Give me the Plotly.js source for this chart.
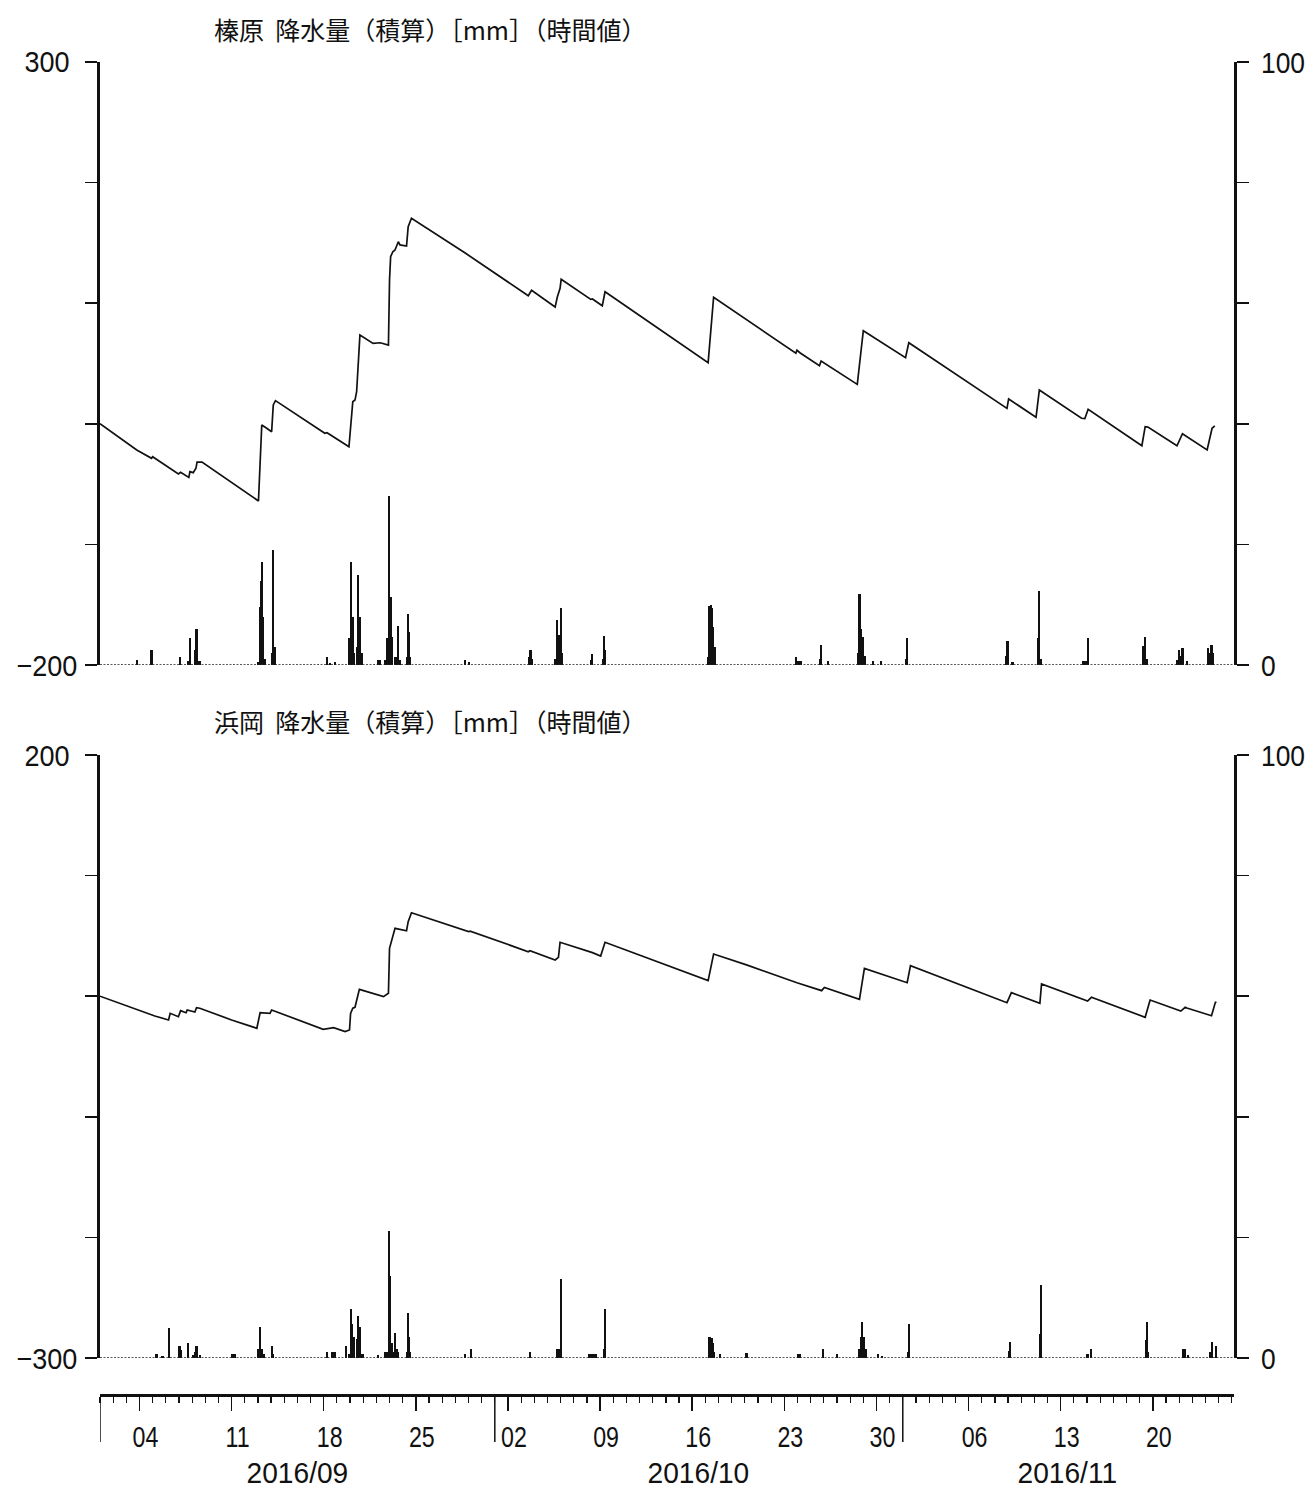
<!DOCTYPE html>
<html>
<head>
<meta charset="utf-8">
<script src="https://cdn.plot.ly/plotly-3.0.1.min.js"></script>
<style>html,body{margin:0;padding:0;background:#fff;}#chart{width:1312px;height:1493px;}</style>
</head>
<body>
<div id="chart"></div>
<script>
// ---------- data ----------
const titleTop = '榛原  降水量（積算）［mm］（時間値）';
const titleBottom = '浜岡  降水量（積算）［mm］（時間値）';

const monthStarts = ['2016-09-01', '2016-10-01', '2016-11-01'];
const monthLabels = ['2016/09', '2016/10', '2016/11'];
const axisStart = '2016-09-01 00:00';
const axisEnd = '2016-11-26 04:00';
const lastDay = '2016-11-26 00:00';

const topLeftTicks = [-200, -100, 0, 100, 200, 300];
const topLeftText = ['−200', '', '', '', '', '300'];
const botLeftTicks = [-300, -200, -100, 0, 100, 200];
const botLeftText = ['−300', '', '', '', '', '200'];
const rightTicks = [0, 20, 40, 60, 80, 100];
const rightText = ['0', '', '', '', '', '100'];

// 榛原: cumulative (line)
const topLineT = ['2016-09-01 00:00','2016-09-03 19:00','2016-09-04 22:00','2016-09-05 00:00','2016-09-06 23:00','2016-09-07 03:00','2016-09-07 18:00','2016-09-07 20:00','2016-09-08 02:00','2016-09-08 07:00','2016-09-08 09:00','2016-09-08 18:00','2016-09-13 01:00','2016-09-13 07:00','2016-09-13 16:00','2016-09-14 01:00','2016-09-14 04:00','2016-09-14 08:00','2016-09-18 02:00','2016-09-18 06:00','2016-09-19 22:00','2016-09-20 02:00','2016-09-20 05:00','2016-09-20 09:00','2016-09-20 12:00','2016-09-20 18:00','2016-09-21 18:00','2016-09-22 07:00','2016-09-22 22:00','2016-09-23 00:00','2016-09-23 02:00','2016-09-23 06:00','2016-09-23 10:00','2016-09-23 16:00','2016-09-23 19:00','2016-09-24 07:00','2016-09-24 10:00','2016-09-24 16:00','2016-09-28 18:00','2016-10-03 13:00','2016-10-03 19:00','2016-10-05 14:00','2016-10-05 18:00','2016-10-05 23:00','2016-10-06 01:00','2016-10-08 07:00','2016-10-08 10:00','2016-10-09 04:00','2016-10-09 09:00','2016-10-17 05:00','2016-10-17 15:00','2016-10-23 21:00','2016-10-23 23:00','2016-10-24 05:00','2016-10-25 16:00','2016-10-25 19:00','2016-10-28 13:00','2016-10-29 00:00','2016-11-01 05:00','2016-11-01 11:00','2016-11-08 22:00','2016-11-09 01:00','2016-11-11 03:00','2016-11-11 09:00','2016-11-14 14:00','2016-11-14 20:00','2016-11-15 02:00','2016-11-19 04:00','2016-11-19 10:00','2016-11-19 15:00','2016-11-21 20:00','2016-11-22 06:00','2016-11-24 03:00','2016-11-24 12:00','2016-11-24 17:00'];
const topLineV = [0,-21.7,-28.6,-27.3,-41.6,-40.2,-44.4,-39.7,-40.5,-36.9,-31.7,-31.7,-64,-1,-3.7,-6.6,15.6,19.2,-7.9,-7.4,-19.0,5.9,18.3,19.7,26.6,73.6,66.7,67.2,65.3,119.2,138.6,142.7,144.1,151.0,148.3,147.4,163.4,170.4,141.6,106.2,110.7,96.8,105.1,112.4,119.8,103.2,103.5,97.9,109.5,50.7,104.9,58.5,61.0,58.7,48.2,52.1,32.7,77.2,54.8,67.2,12.8,20.6,5.4,28.0,4.6,4.3,12.0,-18.2,-2.4,-2.7,-18.2,-8.2,-21.7,-3.7,-1.8];

// 榛原: hourly (bars)
const topBarT = ['2016-09-03 20:00','2016-09-04 22:00','2016-09-07 02:00','2016-09-07 17:00','2016-09-07 20:00','2016-09-08 05:00','2016-09-08 08:00','2016-09-08 11:00','2016-09-08 14:00','2016-09-13 01:00','2016-09-13 04:00','2016-09-13 06:00','2016-09-13 07:00','2016-09-13 09:00','2016-09-13 12:00','2016-09-14 02:00','2016-09-14 04:00','2016-09-14 07:00','2016-09-18 06:00','2016-09-18 12:00','2016-09-18 20:00','2016-09-19 22:00','2016-09-20 02:00','2016-09-20 05:00','2016-09-20 07:00','2016-09-20 12:00','2016-09-20 15:00','2016-09-20 18:00','2016-09-20 21:00','2016-09-22 04:00','2016-09-22 07:00','2016-09-22 16:00','2016-09-22 20:00','2016-09-22 23:00','2016-09-23 02:00','2016-09-23 04:00','2016-09-23 10:00','2016-09-23 13:00','2016-09-23 16:00','2016-09-23 18:00','2016-09-24 08:00','2016-09-24 10:00','2016-09-24 12:00','2016-09-24 14:00','2016-09-28 18:00','2016-09-29 01:00','2016-10-03 14:00','2016-10-03 17:00','2016-10-03 20:00','2016-10-05 14:00','2016-10-05 17:00','2016-10-05 20:00','2016-10-06 00:00','2016-10-06 03:00','2016-10-08 07:00','2016-10-08 09:00','2016-10-09 05:00','2016-10-09 07:00','2016-10-09 09:00','2016-10-17 05:00','2016-10-17 07:00','2016-10-17 10:00','2016-10-17 12:00','2016-10-17 14:00','2016-10-17 17:00','2016-10-23 21:00','2016-10-24 00:00','2016-10-24 04:00','2016-10-24 07:00','2016-10-25 17:00','2016-10-25 19:00','2016-10-26 08:00','2016-10-28 14:00','2016-10-28 17:00','2016-10-28 19:00','2016-10-28 23:00','2016-10-29 02:00','2016-10-29 17:00','2016-10-30 08:00','2016-11-01 06:00','2016-11-01 08:00','2016-11-08 21:00','2016-11-08 23:00','2016-11-09 08:00','2016-11-11 06:00','2016-11-11 08:00','2016-11-11 11:00','2016-11-14 16:00','2016-11-14 20:00','2016-11-14 23:00','2016-11-15 02:00','2016-11-19 07:00','2016-11-19 10:00','2016-11-19 13:00','2016-11-21 21:00','2016-11-22 00:00','2016-11-22 03:00','2016-11-22 06:00','2016-11-22 15:00','2016-11-24 05:00','2016-11-24 08:00','2016-11-24 11:00','2016-11-24 14:00'];
const topBarV = [0.8,2.5,1.4,0.7,4.4,2.5,6.0,0.7,0.7,0.5,9.7,14.0,17.0,8.0,1.0,2.0,19.0,3.0,1.4,0.4,0.5,4.4,17.0,8.0,2.0,3.0,14.9,8.0,2.0,0.8,0.8,0.8,4.4,28.0,11.3,4.7,1.4,1.4,6.5,0.8,1.4,8.4,5.5,1.4,0.8,0.5,1.4,2.5,1.0,1.0,7.4,4.9,9.4,2.0,0.8,1.8,1.0,4.8,2.5,1.4,9.8,10.0,9.4,6.3,3.0,1.4,0.6,0.6,0.6,1.0,3.3,0.6,2.0,11.8,6.0,4.6,1.5,0.6,0.6,1.0,4.4,1.5,3.9,0.5,4.4,12.3,1.0,0.6,0.6,0.6,4.4,3.2,4.7,1.0,0.8,2.5,1.5,2.8,0.6,2.8,2.0,3.3,2.0];

// 浜岡: cumulative (line)
const botLineT = ['2016-09-01 00:00','2016-09-05 04:00','2016-09-06 05:00','2016-09-06 08:00','2016-09-06 23:00','2016-09-07 03:00','2016-09-07 13:00','2016-09-07 15:00','2016-09-08 05:00','2016-09-08 08:00','2016-09-08 14:00','2016-09-11 00:00','2016-09-12 22:00','2016-09-13 04:00','2016-09-13 22:00','2016-09-14 01:00','2016-09-17 23:00','2016-09-18 18:00','2016-09-19 15:00','2016-09-19 23:00','2016-09-20 01:00','2016-09-20 05:00','2016-09-20 09:00','2016-09-20 12:00','2016-09-20 17:00','2016-09-22 13:00','2016-09-22 22:00','2016-09-23 00:00','2016-09-23 04:00','2016-09-23 10:00','2016-09-24 07:00','2016-09-24 10:00','2016-09-24 16:00','2016-09-29 00:00','2016-09-29 03:00','2016-10-03 13:00','2016-10-03 16:00','2016-10-05 14:00','2016-10-05 20:00','2016-10-05 23:00','2016-10-08 10:00','2016-10-09 01:00','2016-10-09 09:00','2016-10-17 05:00','2016-10-17 15:00','2016-10-20 03:00','2016-10-23 23:00','2016-10-25 20:00','2016-10-26 01:00','2016-10-28 17:00','2016-10-29 02:00','2016-11-01 08:00','2016-11-01 14:00','2016-11-08 22:00','2016-11-09 06:00','2016-11-11 10:00','2016-11-11 13:00','2016-11-15 01:00','2016-11-15 08:00','2016-11-19 10:00','2016-11-19 19:00','2016-11-22 03:00','2016-11-22 11:00','2016-11-22 14:00','2016-11-24 11:00','2016-11-24 18:00','2016-11-24 20:00'];
const botLineV = [0,-16.4,-19.7,-14.2,-17.0,-12.0,-13.7,-11.4,-13.1,-9.5,-10.0,-19.7,-26.6,-13.7,-14.2,-11.4,-27.5,-26.1,-29.4,-28.0,-14.2,-10.0,-9.2,-3.2,5.7,-0.4,2.4,39.7,46.6,56.3,54.3,61.8,69.2,53.5,54.0,36.9,37.7,30.0,32.2,44.7,36.1,33.3,44.7,12.9,35.0,26.0,11.2,4.6,7.3,-2.6,23.1,11.2,25.3,-5.4,3.0,-5.9,10.1,-4.0,-0.9,-17.5,-3.2,-12.3,-9.2,-9.8,-16.2,-5.1,-4.8];

// 浜岡: hourly (bars)
const botBarT = ['2016-09-05 07:00','2016-09-05 18:00','2016-09-06 06:00','2016-09-07 01:00','2016-09-07 03:00','2016-09-07 16:00','2016-09-08 02:00','2016-09-08 05:00','2016-09-08 08:00','2016-09-08 14:00','2016-09-11 00:00','2016-09-11 03:00','2016-09-11 06:00','2016-09-13 01:00','2016-09-13 04:00','2016-09-13 07:00','2016-09-13 10:00','2016-09-14 01:00','2016-09-14 03:00','2016-09-18 06:00','2016-09-18 16:00','2016-09-18 21:00','2016-09-19 16:00','2016-09-19 22:00','2016-09-20 01:00','2016-09-20 04:00','2016-09-20 07:00','2016-09-20 12:00','2016-09-20 15:00','2016-09-20 18:00','2016-09-20 21:00','2016-09-21 00:00','2016-09-22 03:00','2016-09-22 16:00','2016-09-22 19:00','2016-09-22 23:00','2016-09-23 01:00','2016-09-23 04:00','2016-09-23 06:00','2016-09-23 10:00','2016-09-23 13:00','2016-09-23 16:00','2016-09-24 08:00','2016-09-24 10:00','2016-09-24 12:00','2016-09-24 14:00','2016-09-28 18:00','2016-09-29 05:00','2016-10-03 16:00','2016-10-05 18:00','2016-10-05 20:00','2016-10-06 00:00','2016-10-08 04:00','2016-10-08 08:00','2016-10-08 12:00','2016-10-08 16:00','2016-10-09 07:00','2016-10-09 09:00','2016-10-17 07:00','2016-10-17 09:00','2016-10-17 11:00','2016-10-17 13:00','2016-10-17 15:00','2016-10-18 02:00','2016-10-20 03:00','2016-10-24 01:00','2016-10-24 04:00','2016-10-25 22:00','2016-10-27 00:00','2016-10-28 17:00','2016-10-28 20:00','2016-10-28 22:00','2016-10-29 01:00','2016-10-29 04:00','2016-10-30 03:00','2016-10-30 10:00','2016-11-01 10:00','2016-11-01 12:00','2016-11-09 02:00','2016-11-09 04:00','2016-11-11 10:00','2016-11-11 12:00','2016-11-15 01:00','2016-11-15 07:00','2016-11-19 11:00','2016-11-19 13:00','2016-11-19 15:00','2016-11-22 07:00','2016-11-22 11:00','2016-11-22 16:00','2016-11-24 08:00','2016-11-24 12:00','2016-11-24 19:00'];
const botBarV = [0.6,0.3,5.0,2.0,1.3,2.5,0.5,1.0,2.0,0.5,0.6,0.6,0.6,1.5,5.1,1.5,0.7,2.0,0.7,1.0,1.0,1.0,2.0,0.7,8.1,5.6,3.5,3.1,7.0,5.2,0.7,0.7,0.5,1.0,1.0,21.1,13.6,2.5,1.0,4.1,1.5,1.0,1.0,7.5,3.5,1.0,0.6,1.5,1.0,1.5,1.5,13.1,0.6,0.6,0.6,0.6,1.5,8.1,3.5,3.5,3.3,2.5,1.0,0.6,0.9,0.6,0.6,1.5,0.6,1.5,3.5,6.0,3.5,1.5,0.6,0.4,1.0,5.6,1.2,2.6,4.0,12.1,0.6,1.5,3.0,6.0,1.0,1.5,1.5,0.5,1.0,2.6,2.0];

// ---------- chart ----------
const W = 1312, H = 1493;
const px = v => v / W;
const py = v => 1 - v / H;
const HOUR = 3600000;
const NUM_FONT = 'Liberation Sans, Arial, sans-serif';
const CJK_FONT = 'Noto Sans CJK JP, Noto Sans, sans-serif';
const domX = [px(100), px(1234)];

function barTrace(t, v, xa, ya) {
  return {type: 'bar', x: t, y: v, xaxis: xa, yaxis: ya, width: t.map(() => 4 * HOUR),
    marker: {color: '#111', line: {width: 0}}, hoverinfo: 'skip'};
}
function lineTrace(t, v, xa, ya) {
  return {type: 'scatter', mode: 'lines', x: t, y: v, xaxis: xa, yaxis: ya,
    line: {color: '#111', width: 1.7}, hoverinfo: 'skip'};
}

const data = [
  barTrace(topBarT, topBarV, 'x', 'y2'),
  lineTrace(topLineT, topLineV, 'x', 'y'),
  barTrace(botBarT, botBarV, 'x2', 'y4'),
  lineTrace(botLineT, botLineV, 'x2', 'y3')
];

function leftAxis(domain, range, vals, anchor) {
  return {domain: domain, range: range, anchor: anchor, tickmode: 'array', tickvals: vals, ticktext: vals.map(() => ''),
    ticks: 'outside', ticklen: 12, tickwidth: 1.5, tickcolor: '#111', showline: true, linewidth: 3, linecolor: '#111',
    showgrid: false, zeroline: false, fixedrange: true};
}
function rightAxis(over, anchor, range) {
  return {overlaying: over, side: 'right', anchor: anchor, range: range, tickmode: 'array', tickvals: rightTicks, ticktext: rightText,
    ticks: 'outside', ticklen: 12, tickwidth: 1.5, tickcolor: '#111', showline: true, linewidth: 3, linecolor: '#111',
    showgrid: false, zeroline: false, tickfont: {family: NUM_FONT, size: 30, color: '#111'}, ticklabelstandoff: 6, fixedrange: true};
}

const shapes = [];
shapes.push({type: 'line', xref: 'paper', x0: domX[0], x1: domX[1], yref: 'y2', y0: 0, y1: 0, line: {color: '#222', width: 1.5, dash: '2px,1.5px'}});
shapes.push({type: 'line', xref: 'paper', x0: domX[0], x1: domX[1], yref: 'y4', y0: 0, y1: 0, line: {color: '#222', width: 1.5, dash: '2px,1.5px'}});
monthStarts.forEach(m => shapes.push({type: 'line', xref: 'x2', x0: m, x1: m, yref: 'paper', y0: py(1395), y1: py(1442), line: {color: '#111', width: 1.5}}));

const annotations = [
  {text: titleTop, xref: 'paper', yref: 'paper', x: px(212), y: py(29), xanchor: 'left', yanchor: 'middle', showarrow: false, font: {family: CJK_FONT, size: 25, color: '#111'}},
  {text: titleBottom, xref: 'paper', yref: 'paper', x: px(212), y: py(721), xanchor: 'left', yanchor: 'middle', showarrow: false, font: {family: CJK_FONT, size: 25, color: '#111'}}
];
function leftLabels(vals, text, yref) {
  vals.forEach((v, i) => {
    if (text[i]) annotations.push({text: text[i], xref: 'paper', yref: yref, x: px(47), y: v, xanchor: 'center', yanchor: 'middle',
      showarrow: false, font: {family: NUM_FONT, size: 30, color: '#111'}, _sq: 0.9});
  });
}
leftLabels(topLeftTicks, topLeftText, 'y');
leftLabels(botLeftTicks, botLeftText, 'y3');

const endMs = Math.min(new Date(axisEnd.replace(' ', 'T')).getTime(), new Date(lastDay.replace(' ', 'T')).getTime());
const pad = n => String(n).padStart(2, '0');
monthStarts.forEach((m, i) => {
  const s = new Date(m + 'T00:00').getTime();
  const e = i + 1 < monthStarts.length ? new Date(monthStarts[i + 1] + 'T00:00').getTime() : endMs;
  const mid = new Date((s + Math.min(e, endMs)) / 2);
  const midStr = mid.getFullYear() + '-' + pad(mid.getMonth() + 1) + '-' + pad(mid.getDate()) + ' ' + pad(mid.getHours()) + ':' + pad(mid.getMinutes());
  annotations.push({text: monthLabels[i], xref: 'x2', yref: 'paper', x: midStr, y: py(1473), xanchor: 'center', yanchor: 'middle', showarrow: false,
    borderpad: 0, font: {family: NUM_FONT, size: 29, color: '#111'}, _sq: 0.97});
});
const squeeze = annotations.map(a => a._sq || 0);
annotations.forEach(a => delete a._sq);

const layout = {
  width: W, height: H, margin: {l: 0, r: 0, t: 0, b: 0}, paper_bgcolor: '#fff', plot_bgcolor: 'rgba(0,0,0,0)',
  showlegend: false, barmode: 'overlay', bargap: 0,
  xaxis: {domain: domX, anchor: 'y', type: 'date', range: [axisStart, axisEnd], visible: false, fixedrange: true},
  xaxis2: {domain: domX, anchor: 'free', position: py(1395), type: 'date', range: [axisStart, axisEnd],
    tickmode: 'linear', tick0: '2016-09-04', dtick: 7 * 86400000, tickformat: '%d',
    ticks: 'outside', ticklen: 14, tickwidth: 1.5, tickcolor: '#111', showline: true, linewidth: 3, linecolor: '#111',
    showgrid: false, zeroline: false, tickfont: {family: NUM_FONT, size: 29, color: '#111'}, ticklabelshift: 6, ticklabelstandoff: 1,
    minor: {tick0: '2016-09-01', dtick: 86400000, ticks: 'outside', ticklen: 6, tickwidth: 1.2, tickcolor: '#111', showgrid: false},
    fixedrange: true},
  yaxis: leftAxis([py(665), py(62)], [-200, 300], topLeftTicks, 'x'),
  yaxis2: rightAxis('y', 'x', [0, 100]),
  yaxis3: leftAxis([py(1358), py(755)], [-300, 200], botLeftTicks, 'x2'),
  yaxis4: rightAxis('y3', 'x2', [0, 100]),
  shapes: shapes,
  annotations: annotations
};

function narrow(el, f) {
  const len = el.getComputedTextLength();
  if (len > 0) { el.setAttribute('textLength', (len * f).toFixed(2)); el.setAttribute('lengthAdjust', 'spacingAndGlyphs'); }
}
Plotly.newPlot('chart', data, layout, {staticPlot: true, displayModeBar: false}).then(gd => {
  gd.querySelectorAll('.x2tick text').forEach(t => narrow(t, 0.8));
  gd.querySelectorAll('.y2tick text, .y4tick text').forEach(t => narrow(t, 0.88));
  gd.querySelectorAll('g.annotation').forEach(g => {
    const idx = +g.getAttribute('data-index');
    if (squeeze[idx]) g.querySelectorAll('text').forEach(t => narrow(t, squeeze[idx]));
  });
});
</script>
</body>
</html>
